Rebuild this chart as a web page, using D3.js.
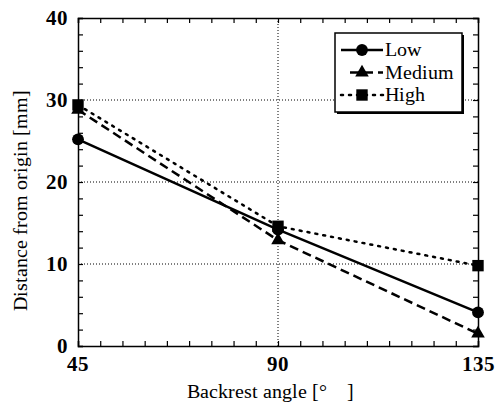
<!DOCTYPE html>
<html>
<head>
<meta charset="utf-8">
<script src="https://cdn.jsdelivr.net/npm/d3@7"></script>
<style>
@font-face { font-family:'ChartSerif'; font-weight:normal; src: local('Liberation Serif'), local('LiberationSerif'), local('Liberation Serif Regular'), local('Tinos'), local('DejaVu Serif'); }
@font-face { font-family:'ChartSerif'; font-weight:bold; src: local('Liberation Serif Bold'), local('LiberationSerif-Bold'), local('Tinos Bold'), local('DejaVu Serif Bold'); }
body { margin:0; background:#fff; }
</style>
</head>
<body>
<svg></svg>
<script>
// data
var angles = [45, 90, 135];
var seriesNames = ["Low", "Medium", "High"];
var lowValues = [25.2, 14.2, 4.1];
var mediumValues = [28.8, 12.9, 1.5];
var highValues = [29.4, 14.6, 9.8];
var yTicks = [0, 10, 20, 30, 40];
var xTicks = [45, 90, 135];

var serif = "ChartSerif, 'Liberation Serif', 'Times New Roman', serif";

var chartSize = { width:496, height:403 };

var svg = d3.select("svg")
            .attr("width", chartSize.width)
            .attr("height", chartSize.height)
            .style("font-family", serif);

var margins = { top:18, bottom:57, left:78, right:18 };
var width = chartSize.width - margins.left - margins.right;
var height = chartSize.height - margins.top - margins.bottom;

var xScale = d3.scaleLinear().domain([45,135]).range([0,width]);
var yScale = d3.scaleLinear().domain([0,40]).range([height,0]);

var plotLand = svg.append("g")
                  .attr("transform","translate("+margins.left+","+margins.top+")");

// dotted grid
plotLand.selectAll(".hgrid")
        .data([10,20,30])
        .enter().append("line")
        .attr("x1",0).attr("x2",width)
        .attr("y1",function(d){return yScale(d);})
        .attr("y2",function(d){return yScale(d);})
        .attr("stroke","#000").attr("stroke-width",1)
        .attr("stroke-dasharray","1,2");
plotLand.append("line")
        .attr("x1",xScale(90)).attr("x2",xScale(90))
        .attr("y1",0).attr("y2",height)
        .attr("stroke","#000").attr("stroke-width",1)
        .attr("stroke-dasharray","1,2");

// inward minor ticks on all four sides
var xMinor = d3.range(45,136,5);
var yMinor = d3.range(0,41,2);
var xBottom = d3.axisBottom(xScale).tickValues(xMinor).tickSize(-5).tickFormat("");
var xTop = d3.axisTop(xScale).tickValues(xMinor).tickSize(-5).tickFormat("");
var yLeft = d3.axisLeft(yScale).tickValues(yMinor).tickSize(-5).tickFormat("");
var yRight = d3.axisRight(yScale).tickValues(yMinor).tickSize(-5).tickFormat("");

plotLand.append("g").attr("transform","translate(0,"+height+")").call(xBottom);
plotLand.append("g").call(xTop);
plotLand.append("g").call(yLeft);
plotLand.append("g").attr("transform","translate("+width+",0)").call(yRight);
plotLand.selectAll(".domain").attr("stroke","#000").attr("stroke-width",1.5);
plotLand.selectAll(".tick line").attr("stroke","#000").attr("stroke-width",1.2);

// tick labels
plotLand.selectAll(".ylab")
        .data(yTicks)
        .enter().append("text")
        .attr("x",-10)
        .attr("y",function(d){return yScale(d)+7;})
        .attr("text-anchor","end")
        .style("font-family",serif)
        .style("font-size","21px").style("font-weight","bold")
        .text(function(d){return d;});
plotLand.selectAll(".xlab")
        .data(xTicks)
        .enter().append("text")
        .attr("x",function(d){return xScale(d);})
        .attr("y",height+25)
        .attr("text-anchor","middle")
        .style("font-family",serif)
        .style("font-size","21px").style("font-weight","bold")
        .text(function(d){return d;});

// axis titles
svg.append("text")
   .attr("x",270).attr("y",398)
   .attr("text-anchor","middle")
   .style("font-family",serif)
   .style("font-size","20px")
   .text("Backrest angle [°\u2003]");
svg.append("text")
   .attr("transform","translate(27,200) rotate(-90)")
   .attr("text-anchor","middle")
   .style("font-family",serif)
   .style("font-size","20px")
   .text("Distance from origin [mm]");

// series
var series = [
  { name:seriesNames[0], values:lowValues, dash:null, shape:d3.symbolCircle, size:110 },
  { name:seriesNames[1], values:mediumValues, dash:"9,5", shape:d3.symbolTriangle, size:80 },
  { name:seriesNames[2], values:highValues, dash:"2,6", shape:d3.symbolSquare, size:130 }
];

var line = d3.line()
             .x(function(d,i){return xScale(angles[i]);})
             .y(function(d){return yScale(d);});

var groups = plotLand.selectAll(".series")
                     .data(series)
                     .enter().append("g");

groups.append("path")
      .attr("d",function(d){return line(d.values);})
      .attr("fill","none")
      .attr("stroke","#000")
      .attr("stroke-width",2.5)
      .attr("stroke-linecap",function(d){return d.dash=="2,6" ? "round" : "butt";})
      .attr("stroke-dasharray",function(d){return d.dash;});

groups.selectAll("path.mark")
      .data(function(d){return d.values.map(function(v,i){return {v:v,i:i,s:d};});})
      .enter().append("path")
      .attr("class","mark")
      .attr("transform",function(d){return "translate("+xScale(angles[d.i])+","+yScale(d.v)+")";})
      .attr("d",function(d){return d3.symbol().type(d.s.shape).size(d.s.size)();})
      .attr("fill","#000");

// legend
var legend = svg.append("g").attr("transform","translate(335,33)");
legend.append("rect")
      .attr("x",2).attr("y",2).attr("width",127).attr("height",79)
      .attr("fill","#000");
legend.append("rect")
      .attr("x",0).attr("y",0).attr("width",127).attr("height",79)
      .attr("fill","#fff").attr("stroke","#000").attr("stroke-width",1.5);

var legendLines = legend.selectAll(".legendLine")
                        .data(series)
                        .enter().append("g")
                        .attr("transform",function(d,i){return "translate(0,"+(17+i*22.5)+")";});
legendLines.append("line")
           .attr("x1",function(d,i){return i==1 ? 15 : 6;}).attr("x2",48)
           .attr("y1",0).attr("y2",0)
           .attr("stroke","#000").attr("stroke-width",2.5)
           .attr("stroke-linecap",function(d){return d.dash=="2,6" ? "round" : "butt";})
           .attr("stroke-dasharray",function(d){return d.dash;});
legendLines.append("path")
           .attr("transform","translate(27,0)")
           .attr("d",function(d){return d3.symbol().type(d.shape).size(d.size)();})
           .attr("fill","#000");
legendLines.append("text")
           .attr("x",50).attr("y",6)
           .style("font-family",serif)
           .style("font-size","20px")
           .text(function(d){return d.name;});
</script>
</body>
</html>
